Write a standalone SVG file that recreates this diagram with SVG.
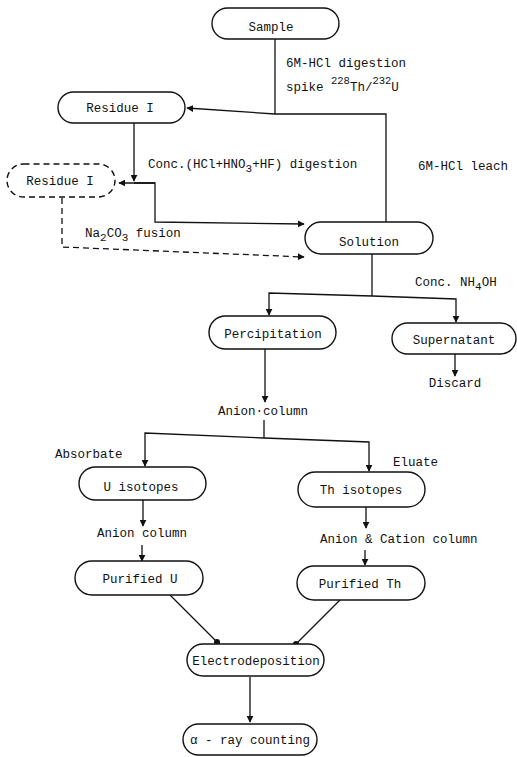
<svg xmlns="http://www.w3.org/2000/svg" width="517" height="757" viewBox="0 0 517 757">
<style>
.n{fill:#fff;stroke:#111;stroke-width:1.4}
.d{fill:#fff;stroke:#111;stroke-width:1.4;stroke-dasharray:6,4}
.t{font-family:"Liberation Mono",monospace;font-size:12.5px;fill:#111}
.m{text-anchor:middle}
.c path{fill:none;stroke:#111;stroke-width:1.3}
</style>
<defs>
<marker id="a" viewBox="0 0 10 10" refX="9" refY="5" markerWidth="7" markerHeight="7" orient="auto" markerUnits="userSpaceOnUse"><path d="M0,0 L10,5 L0,10 z" fill="#111"/></marker>
<marker id="dot" viewBox="0 0 10 10" refX="5" refY="5" markerWidth="6" markerHeight="6" markerUnits="userSpaceOnUse"><circle cx="5" cy="5" r="5" fill="#111"/></marker>
</defs>
<rect width="517" height="757" fill="#fff"/>
<g class="c" id="connectors">
<path d="M275,39 V114"/>
<path d="M386,223 V114 L275,114 L187,108" marker-end="url(#a)"/>
<path d="M134,123 V181" marker-end="url(#a)"/>
<path d="M155,183 H119" marker-end="url(#a)"/>
<path d="M134,183 H155 V222 L304,224" marker-end="url(#a)"/>
<path d="M62,198 V247 L304,257" stroke-dasharray="6,4" marker-end="url(#a)"/>
<path d="M372,254 V296"/>
<path d="M372,296 L269,293 V315" marker-end="url(#a)"/>
<path d="M372,296 L456,299 V322" marker-end="url(#a)"/>
<path d="M455,354 V376" marker-end="url(#a)"/>
<path d="M265,349 V402" marker-end="url(#a)"/>
<path d="M264,420 V438"/>
<path d="M264,438 L145,433 V466" marker-end="url(#a)"/>
<path d="M264,438 L369,442 V471" marker-end="url(#a)"/>
<path d="M143,500 V526" marker-end="url(#a)"/>
<path d="M142,545 V561" marker-end="url(#a)"/>
<path d="M366,507 V528" marker-end="url(#a)"/>
<path d="M365,550 V565" marker-end="url(#a)"/>
<path d="M170,595 L217,642" marker-end="url(#dot)"/>
<path d="M340,600 L296,644" marker-end="url(#dot)"/>
<path d="M250,677 V722" marker-end="url(#a)"/>
</g>
<g id="sample"><rect class="n" x="212" y="8" width="127" height="31" rx="15.5"/><text class="t m" x="271" y="31">Sample</text></g>
<g id="residue1"><rect class="n" x="58" y="92" width="127" height="31" rx="15.5"/><text class="t m" x="120" y="112">Residue I</text></g>
<g id="residue1b"><rect class="d" x="7" y="164" width="108" height="33" rx="16.5"/><text class="t m" x="60" y="185">Residue I</text></g>
<g id="solution"><rect class="n" x="305" y="222" width="128" height="32" rx="16"/><text class="t m" x="369" y="246">Solution</text></g>
<g id="percipitation"><rect class="n" x="209" y="316" width="127" height="33" rx="16.5"/><text class="t m" x="273" y="338">Percipitation</text></g>
<g id="supernatant"><rect class="n" x="392" y="323" width="124" height="31" rx="15.5"/><text class="t m" x="454" y="344">Supernatant</text></g>
<g id="uiso"><rect class="n" x="79" y="467" width="127" height="33" rx="16.5"/><text class="t m" x="141" y="491">U isotopes</text></g>
<g id="thiso"><rect class="n" x="298" y="472" width="127" height="35" rx="17.5"/><text class="t m" x="361" y="494">Th isotopes</text></g>
<g id="puru"><rect class="n" x="75" y="561" width="128" height="34" rx="17"/><text class="t m" x="140" y="583">Purified  U</text></g>
<g id="purth"><rect class="n" x="297" y="566" width="128" height="34" rx="17"/><text class="t m" x="360" y="588">Purified  Th</text></g>
<g id="electro"><rect class="n" x="187" y="644" width="137" height="32" rx="16"/><text class="t m" x="256" y="665">Electrodeposition</text></g>
<g id="alpha"><rect class="n" x="183" y="724" width="134" height="31" rx="15.5"/><text class="t m" x="250" y="744">α - ray counting</text></g>
<g id="labels">
<text class="t" x="286" y="67">6M-HCl digestion</text>
<text class="t" x="286" y="91">spike <tspan dy="-7" font-size="10.5">228</tspan><tspan dy="7">Th/</tspan><tspan dy="-7" font-size="10.5">232</tspan><tspan dy="7">U</tspan></text>
<text class="t" x="148" y="168">Conc.(HCl+HNO<tspan dy="4" font-size="11">3</tspan><tspan dy="-4">+HF) digestion</tspan></text>
<text class="t" x="418" y="170">6M-HCl leach</text>
<text class="t" x="85" y="237">Na<tspan dy="4" font-size="11">2</tspan><tspan dy="-4">CO</tspan><tspan dy="4" font-size="11">3</tspan><tspan dy="-4"> fusion</tspan></text>
<text class="t" x="415" y="286">Conc. NH<tspan dy="4" font-size="11">4</tspan><tspan dy="-4">OH</tspan></text>
<text class="t m" x="455" y="387">Discard</text>
<text class="t m" x="263" y="415">Anion·column</text>
<text class="t" x="55" y="458">Absorbate</text>
<text class="t" x="393" y="466">Eluate</text>
<text class="t" x="97" y="537">Anion column</text>
<text class="t" x="320" y="543">Anion &amp; Cation column</text>
</g>
</svg>
